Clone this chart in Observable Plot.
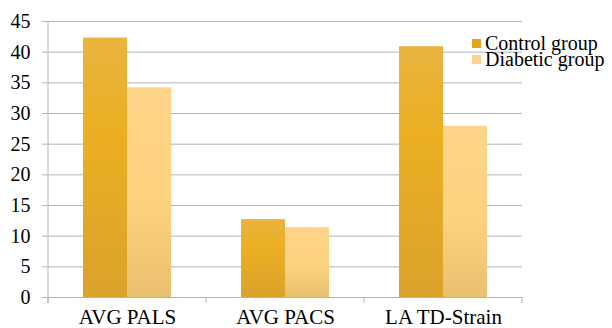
<!DOCTYPE html>
<html><head><meta charset="utf-8">
<script src="https://cdn.jsdelivr.net/npm/d3@7"></script>
<script src="https://cdn.jsdelivr.net/npm/@observablehq/plot@0.6"></script>
<style>body{margin:0;background:#fff;} #chart{width:612px;height:328px;} #chart svg text{font-family:"Liberation Serif","Times New Roman",serif !important;}</style>
</head><body><div id="chart"></div>
<script>
const categories = ["AVG PALS", "AVG PACS", "LA TD-Strain"];
const groups = ["Control group", "Diabetic group"];
const controlValues = [42.3, 12.7, 40.9];
const diabeticValues = [34.2, 11.4, 27.9];
const yTicks = [0, 5, 10, 15, 20, 25, 30, 35, 40, 45];

const rows = categories.flatMap((c, i) => [
  {category: c, group: groups[0], value: controlValues[i]},
  {category: c, group: groups[1], value: diabeticValues[i]}
]);

const gray = "#b4b4b4";
const font = "Liberation Serif, Times New Roman, serif";

const plot = Plot.plot({
  width: 612, height: 328,
  marginLeft: 47, marginRight: 89, marginTop: 21, marginBottom: 31,
  style: {fontFamily: font, color: "#000", background: "transparent", overflow: "visible"},
  fx: {domain: categories, padding: 0, label: null},
  x: {domain: groups, paddingInner: 0, paddingOuter: 0.775, axis: null},
  y: {domain: [0, 45], axis: null},
  color: {domain: groups, range: ["url(#gradControl)", "url(#gradDiabetic)"]},
  marks: [
    Plot.gridY(yTicks, {stroke: gray, strokeOpacity: 1, strokeWidth: 1}),
    Plot.axisY(yTicks, {tickSize: 6, tickPadding: 12, fontSize: 20, stroke: gray, strokeOpacity: 1, label: null, facetAnchor: "left"}),
    Plot.barY(rows, {fx: "category", x: "group", y: "value", fill: "group"}),
    Plot.ruleY([0], {stroke: gray, strokeWidth: 1}),
    Plot.axisFx({anchor: "bottom", tickSize: 0, tickPadding: 12, fontSize: 21, label: null})
  ]
});

document.getElementById("chart").appendChild(plot);

const svg = d3.select(plot);
svg.selectAll("text").attr("font-family", font).style("font-family", font).attr("fill", "#000");
svg.selectAll('g[aria-label="y-axis tick label"]').attr("font-size", 20).selectAll("text").style("font-size", "20px");
svg.selectAll('g[aria-label="fx-axis tick label"]').attr("font-size", 21).selectAll("text").style("font-size", "21px");

const defs = svg.insert("defs", ":first-child");
function grad(id, stops) {
  const g = defs.append("linearGradient").attr("id", id)
    .attr("x1", 0).attr("y1", 0).attr("x2", 0).attr("y2", 1);
  stops.forEach(([o, c]) => g.append("stop").attr("offset", o).attr("stop-color", c));
}
grad("gradControl", [[0, "#e9b43f"], [0.35, "#ecaf22"], [1, "#dba22c"]]);
grad("gradDiabetic", [[0, "#fdd489"], [0.55, "#fdd27f"], [1, "#e8c06f"]]);

const fx = plot.scale("fx");
const y = plot.scale("y");
const y0 = y.apply(0), yTop = y.apply(45);
const left = fx.apply(categories[0]);
const bw = (fx.apply(categories[1]) - fx.apply(categories[0]));
const bounds = categories.map(c => fx.apply(c)).concat([fx.apply(categories[categories.length - 1]) + bw]);

const deco = svg.append("g").attr("stroke", gray).attr("stroke-width", 1);
deco.append("line").attr("x1", left).attr("x2", left).attr("y1", yTop).attr("y2", y0 + 6);
bounds.forEach(x => deco.append("line").attr("x1", x).attr("x2", x).attr("y1", y0).attr("y2", y0 + 6));

const legendColors = ["#e5a41f", "#f9d48a"];
const lg = svg.append("g").attr("font-family", font).attr("font-size", 20).attr("text-anchor", "start");
groups.forEach((g, i) => {
  lg.append("rect").attr("x", 472).attr("y", 39 + i * 16).attr("width", 9).attr("height", 9).attr("fill", legendColors[i]);
  lg.append("text").attr("x", 485).attr("y", 50 + i * 16).attr("fill", "#000").style("font-family", font).style("font-size", "20px").text(g);
});
</script>
</body></html>
